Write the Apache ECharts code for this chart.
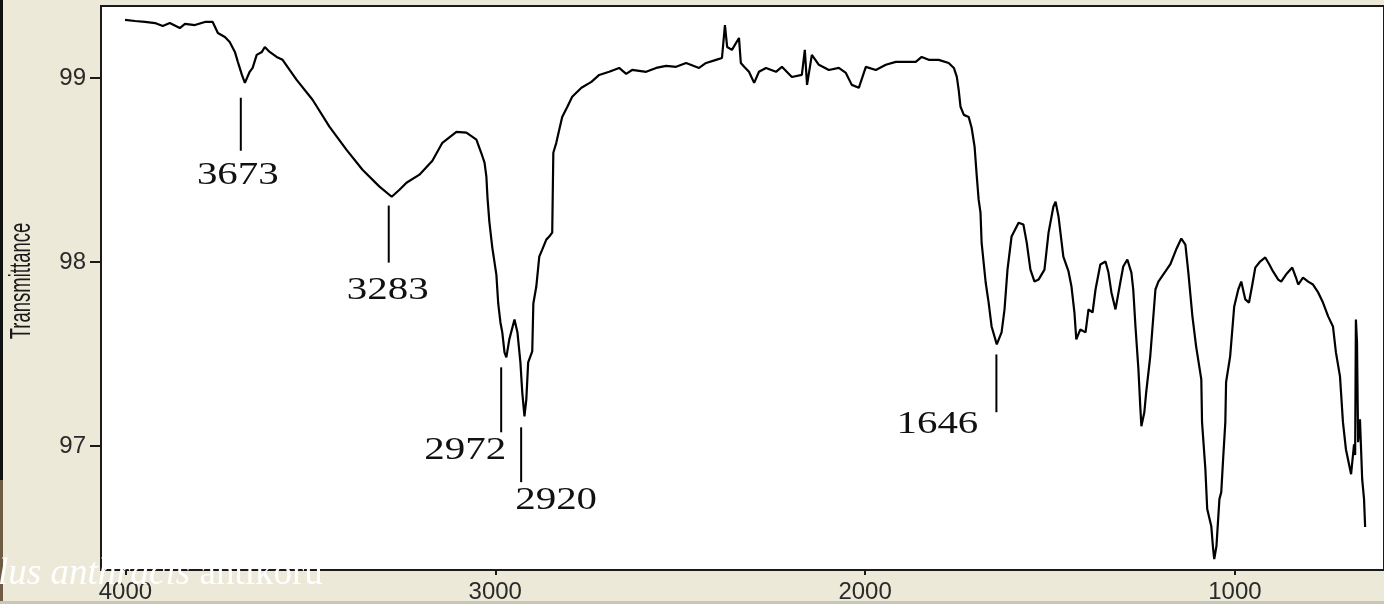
<!DOCTYPE html>
<html>
<head>
<meta charset="utf-8">
<script src="https://cdn.jsdelivr.net/npm/echarts@6.0.0/dist/echarts.min.js"></script>
<style>
html,body{margin:0;padding:0;background:#ECE9D8;}
#c{width:1384px;height:604px;}
</style>
</head>
<body>
<div id="c"></div>
<script>
// ---- data ----
const wavenumber = [4001,3974,3947,3920,3899,3880,3853,3839,3812,3785,3764,3750,3731,3718,3704,3696,3685,3677,3664,3656,3645,3631,3623,3610,3591,3575,3556,3537,3494,3448,3402,3359,3313,3280,3259,3240,3205,3170,3143,3105,3078,3051,3038,3029,3024,3021,3016,3008,2997,2992,2986,2981,2975,2970,2962,2948,2940,2932,2927,2921,2916,2911,2900,2897,2889,2881,2873,2862,2854,2846,2843,2835,2827,2819,2805,2792,2767,2740,2719,2692,2665,2646,2630,2592,2565,2538,2511,2484,2449,2430,2403,2387,2379,2373,2360,2341,2336,2327,2314,2300,2287,2268,2241,2225,2198,2171,2163,2157,2144,2125,2098,2071,2052,2036,2017,1998,1971,1944,1917,1890,1863,1847,1828,1801,1774,1760,1752,1747,1742,1733,1720,1712,1704,1698,1693,1688,1685,1674,1666,1658,1644,1631,1623,1615,1604,1585,1572,1563,1553,1542,1531,1515,1504,1491,1485,1477,1464,1450,1442,1434,1429,1418,1404,1396,1385,1377,1364,1350,1342,1334,1323,1310,1302,1291,1280,1275,1269,1261,1256,1253,1245,1240,1229,1215,1207,1188,1175,1159,1145,1134,1126,1115,1105,1091,1089,1080,1075,1064,1059,1056,1050,1042,1037,1032,1026,1024,1013,1002,991,983,972,962,953,945,932,918,907,897,883,875,862,845,835,829,816,802,789,775,762,748,735,727,716,708,700,686,678,675,673,670,667,662,656,651,648];
const transmittance = [99.315,99.309,99.304,99.298,99.282,99.298,99.271,99.293,99.287,99.304,99.304,99.244,99.222,99.195,99.141,99.087,99.016,98.973,99.033,99.054,99.125,99.141,99.168,99.141,99.114,99.098,99.043,98.989,98.881,98.734,98.609,98.501,98.409,98.354,98.392,98.430,98.474,98.550,98.647,98.707,98.702,98.664,98.593,98.539,98.463,98.349,98.219,98.078,97.931,97.774,97.671,97.617,97.508,97.481,97.579,97.687,97.617,97.454,97.291,97.161,97.253,97.454,97.514,97.774,97.866,98.029,98.067,98.121,98.138,98.159,98.593,98.647,98.718,98.788,98.843,98.897,98.946,98.978,99.016,99.033,99.054,99.022,99.043,99.033,99.054,99.065,99.060,99.081,99.054,99.081,99.098,99.108,99.287,99.168,99.152,99.217,99.081,99.060,99.033,98.973,99.033,99.054,99.033,99.060,99.005,99.016,99.152,98.962,99.125,99.071,99.043,99.054,99.027,98.962,98.946,99.060,99.043,99.071,99.087,99.087,99.087,99.114,99.098,99.098,99.081,99.054,99.005,98.935,98.843,98.799,98.788,98.729,98.626,98.463,98.338,98.268,98.105,97.888,97.779,97.649,97.552,97.617,97.742,97.958,98.138,98.213,98.203,98.105,97.958,97.893,97.904,97.958,98.159,98.300,98.327,98.246,98.029,97.948,97.866,97.725,97.579,97.633,97.617,97.742,97.725,97.850,97.986,98.002,97.942,97.834,97.742,97.888,97.975,98.013,97.942,97.850,97.649,97.416,97.215,97.107,97.183,97.291,97.487,97.850,97.893,97.948,97.986,98.067,98.127,98.094,97.942,97.704,97.541,97.362,97.129,96.874,96.657,96.564,96.440,96.385,96.456,96.711,96.749,96.928,97.129,97.346,97.487,97.758,97.850,97.893,97.796,97.779,97.877,97.969,98.002,98.024,97.986,97.948,97.904,97.893,97.931,97.969,97.915,97.877,97.915,97.893,97.877,97.834,97.779,97.704,97.649,97.508,97.378,97.129,96.982,96.846,97.009,96.950,97.687,97.563,97.020,97.145,96.819,96.711,96.559];

// peak annotations
const peakLabels = ['3673','3283','2972','2920','1646'];
const peakMarkX = [3688,3288,2984,2930,1645];
const peakLineTop = [98.892,98.306,97.427,97.101,97.497];
const peakLineBottom = [98.604,97.996,97.074,96.803,97.183];

const xTicks = [1000,2000,3000,4000];
const yTicks = [97,98,99];
const yAxisTitle = 'Transmittance';
const overlayItalic = 'lus anthracis';
const overlayNormal = 'antikoru';

// ---- layout (pixel offsets of labels from line ends) ----
const labelOffsets = [[-3,25],[-1,28],[-36,19],[35,19],[-59,13]];

const chart = echarts.init(document.getElementById('c'), null, {renderer:'canvas'});
const lineData = wavenumber.map((w,i)=>[w, transmittance[i]]);
const annData = peakLabels.map((l,i)=>[peakMarkX[i], peakLineTop[i], peakLineBottom[i]]);

chart.setOption({
  animation:false,
  backgroundColor:'#ECE9D8',
  grid:{left:101, right:-2, top:6, bottom:33, show:true, backgroundColor:'#ffffff', borderColor:'#1a1a1a', borderWidth:2},
  xAxis:{
    type:'value', inverse:true, min:597, max:4066,
    splitLine:{show:false},
    axisLine:{show:false},
    axisTick:{show:true, customValues:xTicks, length:5, inside:false, lineStyle:{color:'#1a1a1a', width:2}},
    axisLabel:{customValues:xTicks, margin:10, formatter:function(v){return String(v);}, fontFamily:'Liberation Sans, Arial, sans-serif', fontSize:24, color:'#2a2a2a'}
  },
  yAxis:{
    type:'value', min:96.3257, max:99.3906,
    splitLine:{show:false},
    axisLine:{show:false},
    axisTick:{show:true, customValues:yTicks, length:11, lineStyle:{color:'#1a1a1a', width:2}},
    axisLabel:{customValues:yTicks, margin:15, formatter:function(v){return String(v);}, fontFamily:'Liberation Sans, Arial, sans-serif', fontSize:24, color:'#2a2a2a'}
  },
  series:[
    {type:'line', data:lineData, symbol:'none', lineStyle:{color:'#000', width:2.2}, silent:true, z:3},
    {type:'custom', data:annData, silent:true, z:4, clip:false,
     renderItem:function(params, api){
       const i = params.dataIndex;
       const p1 = api.coord([api.value(0), api.value(1)]);
       const p2 = api.coord([api.value(0), api.value(2)]);
       const off = labelOffsets[i];
       return {type:'group', children:[
         {type:'line', shape:{x1:p1[0], y1:p1[1], x2:p2[0], y2:p2[1]}, style:{stroke:'#000', lineWidth:2}},
         {type:'text', x:p2[0]+off[0], y:p2[1]+off[1], scaleX:1.32,
          style:{text:peakLabels[i], fontFamily:'Liberation Serif, "Times New Roman", serif', fontSize:31, fill:'#111', align:'center', verticalAlign:'middle'}}
       ]};
     }}
  ],
  graphic:[
    {type:'rect', left:0, top:0, shape:{width:3, height:480}, style:{fill:'#111'}, z:10},
    {type:'rect', left:0, top:480, shape:{width:3, height:124}, style:{fill:'#6e5b44'}, z:10},
    {type:'rect', left:0, top:601, shape:{width:1384, height:3}, style:{fill:'#c9c6b8'}, z:10},
    {type:'text', x:22, y:281, rotation:Math.PI/2, scaleY:1.55,
     style:{text:yAxisTitle, fontFamily:'Liberation Sans, Arial, sans-serif', fontSize:18.5, fill:'#1a1a1a', align:'center', verticalAlign:'middle'}, z:10},
    {type:'text', x:-2, y:574, z:20,
     style:{text:'{i|'+overlayItalic+'} {n|'+overlayNormal+'}', fill:'#ffffff', fontSize:37, fontFamily:'Liberation Serif, "Times New Roman", serif', verticalAlign:'middle', align:'left',
       rich:{
         i:{fontFamily:'Liberation Serif, "Times New Roman", serif', fontStyle:'italic', fontSize:37, fill:'#ffffff'},
         n:{fontFamily:'Liberation Serif, "Times New Roman", serif', fontSize:37, fill:'#ffffff'}
       }}}
  ]
});
</script>
</body>
</html>
